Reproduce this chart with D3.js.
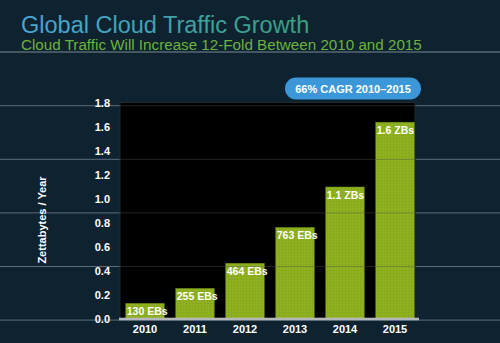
<!DOCTYPE html>
<html lang="en">
<head>
<meta charset="utf-8">
<title>Global Cloud Traffic Growth</title>
<script src="https://cdn.jsdelivr.net/npm/d3@7"></script>
<style>
  html, body { margin: 0; padding: 0; background: #0e2230; }
  svg { display: block; font-family: "Liberation Sans", Arial, sans-serif; }
</style>
</head>
<body>
<script>
// chart data
var years = ["2010", "2011", "2012", "2013", "2014", "2015"];
var traffic = [0.13, 0.255, 0.464, 0.763, 1.1, 1.64];   // zettabytes / year
var barLabels = ["130 EBs", "255 EBs", "464 EBs", "763 EBs", "1.1 ZBs", "1.6 ZBs"];
var yTicks = [0, 0.2, 0.4, 0.6, 0.8, 1.0, 1.2, 1.4, 1.6, 1.8];

var w = 500, h = 343;
var plotLeft = 120, plotRight = 415, plotTop = 103, plotBottom = 319;

var svg = d3.select("body").append("svg")
    .attr("width", w)
    .attr("height", h);

var defs = svg.append("defs");

var grad = defs.append("linearGradient").attr("id", "titleGrad");
grad.append("stop").attr("offset", "0%").attr("stop-color", "#48a6da");
grad.append("stop").attr("offset", "100%").attr("stop-color", "#3a9f7a");

// fine grid texture for bars
var pat = defs.append("pattern")
    .attr("id", "barTex")
    .attr("patternUnits", "userSpaceOnUse")
    .attr("width", 3).attr("height", 3);
pat.append("rect").attr("width", 3).attr("height", 3).attr("fill", "#8fb21f");
pat.append("path").attr("d", "M0 0.5H3M0.5 0V3")
    .attr("stroke", "#7f9f18").attr("stroke-width", 0.6).attr("opacity", 0.6);

svg.append("rect").attr("width", w).attr("height", h).attr("fill", "#0e2230");

// decorative background rules
var rules = d3.range(5).map(function(i) { return 105.7 + i * 53.6; });
svg.selectAll("line.rule")
    .data(rules)
  .enter().append("line")
    .attr("class", "rule")
    .attr("x1", 0).attr("x2", w)
    .attr("y1", function(d) { return d; })
    .attr("y2", function(d) { return d; })
    .attr("stroke", "#5c707a")
    .attr("stroke-width", 1);

// title
svg.append("text")
    .attr("x", 21).attr("y", 33)
    .attr("font-size", 23.5)
    .attr("fill", "url(#titleGrad)")
    .text("Global Cloud Traffic Growth");

svg.append("line")
    .attr("x1", 0).attr("x2", w)
    .attr("y1", 52).attr("y2", 52)
    .attr("stroke", "#7b8a92").attr("stroke-width", 1);

svg.append("text")
    .attr("x", 21).attr("y", 50)
    .attr("font-size", 15.2)
    .attr("fill", "#6bb33c")
    .text("Cloud Traffic Will Increase 12-Fold Between 2010 and 2015");

// plot area
svg.append("rect")
    .attr("x", plotLeft).attr("y", plotTop - 0.5)
    .attr("width", plotRight - plotLeft).attr("height", plotBottom - plotTop + 0.5)
    .attr("fill", "#000")
    .attr("stroke", "#1c2a32").attr("stroke-width", 1);

var x = d3.scaleBand()
    .domain(years)
    .range([plotLeft, plotLeft + 300])
    .paddingInner(0.23)
    .paddingOuter(0.115);

var y = d3.scaleLinear()
    .domain([0, 1.8])
    .range([plotBottom, plotTop]);

var data = years.map(function(yr, i) {
    return { year: yr, value: traffic[i], label: barLabels[i] };
});

svg.selectAll("rect.bar")
    .data(data)
  .enter().append("rect")
    .attr("class", "bar")
    .attr("x", function(d) { return x(d.year); })
    .attr("y", function(d) { return y(d.value); })
    .attr("width", x.bandwidth())
    .attr("height", function(d) { return plotBottom - y(d.value); })
    .attr("fill", "url(#barTex)")
    .attr("stroke", "#6f8c14").attr("stroke-width", 0.5);

// rules faintly visible through plot
svg.selectAll("line.inner")
    .data(rules.slice(0, 4))
  .enter().append("line")
    .attr("class", "inner")
    .attr("x1", plotLeft).attr("x2", plotRight)
    .attr("y1", function(d) { return d; })
    .attr("y2", function(d) { return d; })
    .attr("stroke", "#555")
    .attr("stroke-opacity", 0.4);

svg.selectAll("text.barlabel")
    .data(data)
  .enter().append("text")
    .attr("class", "barlabel")
    .attr("x", function(d) { return x(d.year) + 1; })
    .attr("y", function(d) { return y(d.value) + 11.5; })
    .attr("font-size", 10.5)
    .attr("font-weight", "bold")
    .attr("fill", "#fff")
    .text(function(d) { return d.label; });

// baseline
svg.append("rect")
    .attr("x", 119).attr("y", plotBottom - 1.3)
    .attr("width", 300).attr("height", 2.6)
    .attr("fill", "#b4b8ba");

// y axis
var yAxis = svg.append("g")
    .attr("transform", "translate(110,0)")
    .call(d3.axisLeft(y).tickValues(yTicks).tickSize(0).tickPadding(0).tickFormat(d3.format(".1f")));
yAxis.select(".domain").remove();
yAxis.selectAll("text")
    .attr("fill", "#fff")
    .attr("font-size", 11)
    .attr("font-weight", "bold")
    .attr("font-family", "Liberation Sans, Arial, sans-serif");

// x axis
var xAxis = svg.append("g")
    .attr("transform", "translate(0," + plotBottom + ")")
    .call(d3.axisBottom(x).tickSize(0).tickPadding(6));
xAxis.select(".domain").remove();
xAxis.selectAll("text")
    .attr("fill", "#fff")
    .attr("font-size", 11)
    .attr("font-weight", "bold")
    .attr("font-family", "Liberation Sans, Arial, sans-serif");

svg.append("text")
    .attr("transform", "translate(46,220) rotate(-90)")
    .attr("text-anchor", "middle")
    .attr("font-size", 11)
    .attr("font-weight", "bold")
    .attr("fill", "#fff")
    .text("Zettabytes / Year");

// CAGR pill
svg.append("rect")
    .attr("x", 285).attr("y", 77.5)
    .attr("width", 136).attr("height", 22)
    .attr("rx", 11)
    .attr("fill", "#3b97d8");
svg.append("text")
    .attr("x", 353).attr("y", 92.5)
    .attr("text-anchor", "middle")
    .attr("font-size", 11)
    .attr("font-weight", "bold")
    .attr("fill", "#fff")
    .text("66% CAGR 2010\u20132015");
</script>
</body>
</html>
